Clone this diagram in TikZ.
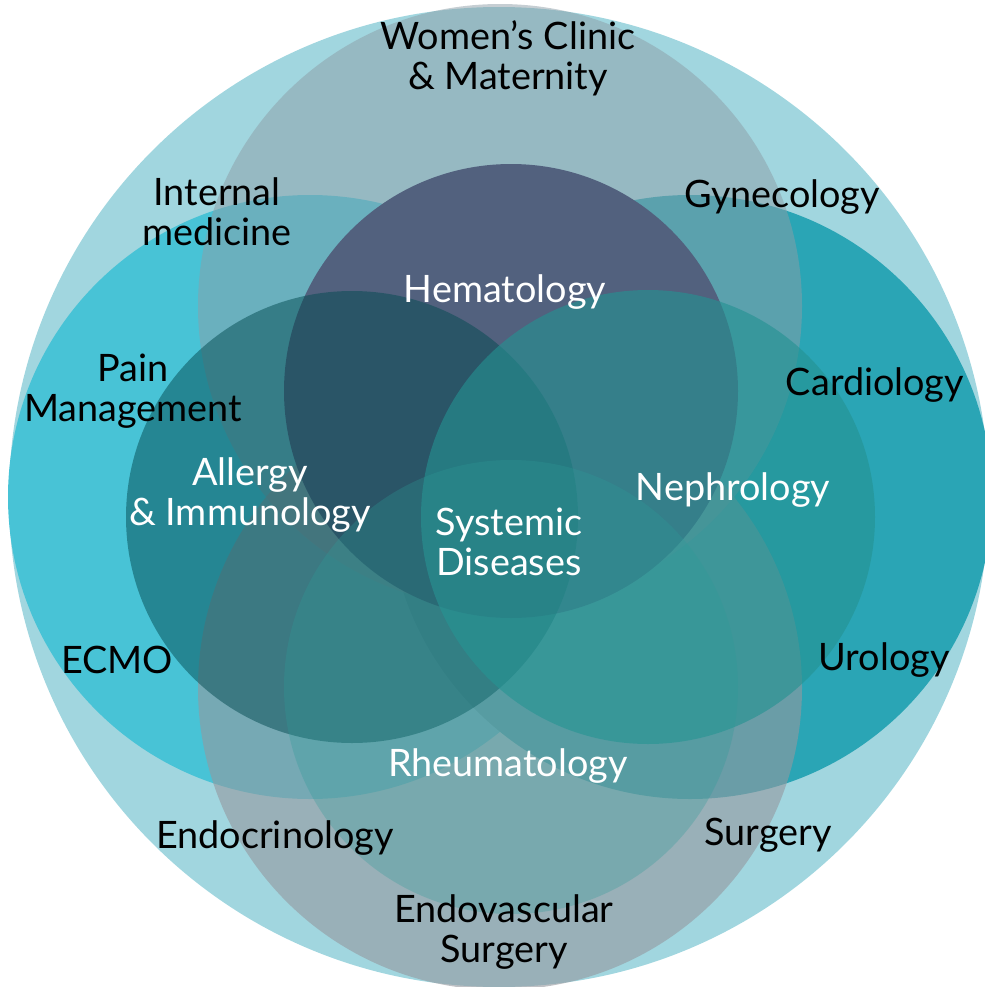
\documentclass[tikz,border=0pt]{standalone}
\usepackage{fontspec}
\setmainfont{Lato}
\usetikzlibrary{positioning}

\definecolor{outerblue}{HTML}{A1D6DF}
\definecolor{leftcyan}{HTML}{48C3D6}
\definecolor{rightteal}{HTML}{2AA5B5}
\definecolor{topgrey}{HTML}{8D9EA7}
\definecolor{bottomgrey}{HTML}{95989E}
\definecolor{hemnavy}{HTML}{52617E}
\definecolor{allergyteal}{HTML}{044B52}
\definecolor{nephroteal}{HTML}{249292}
\definecolor{rheumteal}{HTML}{2D9B98}

\begin{document}
\begin{tikzpicture}[x=0.2mm, y=-0.2mm]
    % Define styles
    \tikzset{
        every node/.style={font=\fontsize{21.5}{22.7}\selectfont, align=center, inner sep=0pt},
        outer/.style={text=black},
        inner/.style={text=white},
        bigcircle/.style={fill opacity=0.5},
        smallcircle/.style={fill opacity=0.5}
    }
    \useasboundingbox (0,0) rectangle (984,987);

    % Outer ring and the four big circles
    \fill[outerblue] (499,497) circle [radius=490];
    \fill[leftcyan] (310,497) circle [radius=302];
    \fill[rightteal] (690,497) circle [radius=302];
    \fill[topgrey, bigcircle] (500,306) circle [radius=302];
    \fill[bottomgrey, bigcircle, fill opacity=0.6] (500,688) circle [radius=302];

    % The four inner circles
    \fill[hemnavy] (511,391) circle [radius=227];
    \fill[allergyteal, smallcircle] (352,517) circle [radius=226];
    \fill[nephroteal, smallcircle, fill opacity=0.62] (648,517) circle [radius=227];
    \fill[rheumteal, smallcircle, fill opacity=0.3] (511,687) circle [radius=227];

    % Labels of the big circles
    \node (womens) [outer] at (508,58) {Women’s Clinic\\\& Maternity};
    \node (internal) [outer] at (217,212) {Internal\\medicine};
    \node (gyneco) [outer] at (782,197) {Gynecology};
    \node (pain) [outer] at (133,391) {Pain\\Management};
    \node (cardio) [outer] at (875,385) {Cardiology};
    \node (ecmo) [outer] at (117,660) {ECMO};
    \node (urology) [outer] at (884,660) {Urology};
    \node (endocrino) [outer] at (275,838) {Endocrinology};
    \node (surgery) [outer] at (768,835) {Surgery};
    \node (endovasc) [outer] at (504,932) {Endovascular\\Surgery};

    % Labels of the inner circles
    \node (hemato) [inner] at (505,292) {Hematology};
    \node (allergy) [inner] at (250,495) {Allergy\\\& Immunology};
    \node (nephro) [inner] at (733,490) {Nephrology};
    \node (systemic) [inner] at (509,542) {Systemic\\Diseases};
    \node (rheumato) [inner] at (508,766) {Rheumatology};

\end{tikzpicture}
\end{document}
